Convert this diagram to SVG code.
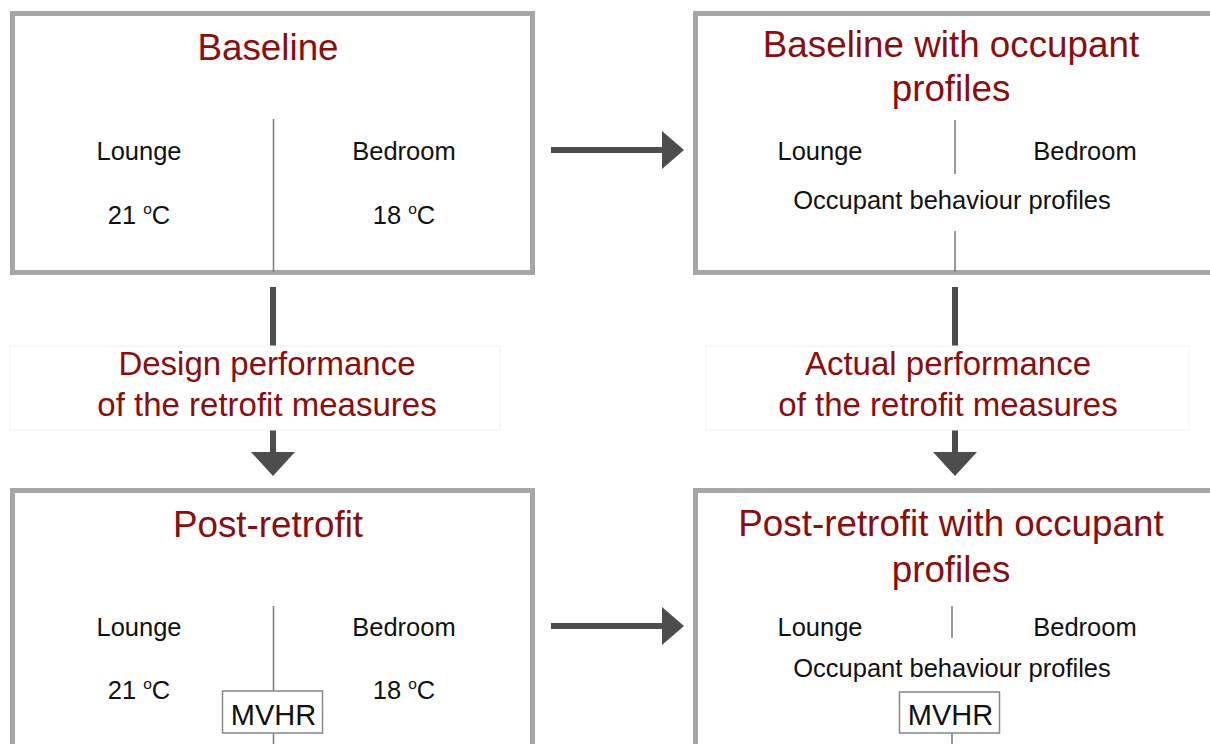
<svg xmlns="http://www.w3.org/2000/svg" width="1210" height="744" viewBox="0 0 1210 744">
<defs>
<style>
.box{fill:#fff;stroke:#a6a6a6;stroke-width:5}
.div{stroke:#808080;stroke-width:1.6;fill:none}
.title{font-family:"Liberation Sans",Arial,sans-serif;font-size:36.8px;fill:#8b0d0d;text-anchor:middle}
.lbl{font-family:"Liberation Sans",Arial,sans-serif;font-size:33px;fill:#8b0d0d;text-anchor:middle}
.t{font-family:"Liberation Sans",Arial,sans-serif;font-size:25.5px;fill:#111;text-anchor:middle}
.sup{font-size:15.5px}
.mv{font-family:"Liberation Sans",Arial,sans-serif;font-size:29px;fill:#111;text-anchor:middle}
.mvbox{fill:#fff;stroke:#888;stroke-width:1.5}
.shaft{stroke:#4d4d4d;stroke-width:6;fill:none}
.head{fill:#4d4d4d}
.lblbox{fill:#fff;stroke:#f2f2f2;stroke-width:1}
</style>
</defs>
<rect width="1210" height="744" fill="#fff"/>

<g id="baseline">
<rect class="box" x="12.5" y="13.5" width="520" height="259"/>
<text class="title" x="268" y="60">Baseline</text>
<line class="div" x1="273.5" y1="119" x2="273.5" y2="272"/>
<text class="t" x="139" y="160">Lounge</text>
<text class="t" x="404" y="160">Bedroom</text>
<text class="t" x="139" y="224">21 <tspan class="sup" dy="-10">o</tspan><tspan dy="10">C</tspan></text>
<text class="t" x="404" y="224">18 <tspan class="sup" dy="-10">o</tspan><tspan dy="10">C</tspan></text>
</g>

<g id="baseline-occupant">
<rect class="box" x="695.5" y="13.5" width="530" height="259"/>
<text class="title" x="951" y="57">Baseline with occupant</text>
<text class="title" x="951" y="101">profiles</text>
<line class="div" x1="955" y1="120" x2="955" y2="174"/>
<text class="t" x="820" y="160">Lounge</text>
<text class="t" x="1085" y="160">Bedroom</text>
<text class="t" x="952" y="209">Occupant behaviour profiles</text>
<line class="div" x1="955" y1="231" x2="955" y2="272"/>
</g>

<g id="post-retrofit">
<rect class="box" x="12.5" y="490.5" width="520" height="270"/>
<text class="title" x="268" y="537">Post-retrofit</text>
<line class="div" x1="273.5" y1="606" x2="273.5" y2="744"/>
<text class="t" x="139" y="636">Lounge</text>
<text class="t" x="404" y="636">Bedroom</text>
<text class="t" x="139" y="699">21 <tspan class="sup" dy="-10">o</tspan><tspan dy="10">C</tspan></text>
<text class="t" x="404" y="699">18 <tspan class="sup" dy="-10">o</tspan><tspan dy="10">C</tspan></text>
<rect class="mvbox" x="222.5" y="691" width="100" height="42"/>
<text class="mv" x="273.5" y="725">MVHR</text>
</g>

<g id="post-retrofit-occupant">
<rect class="box" x="695.5" y="490.5" width="530" height="270"/>
<text class="title" x="951" y="536">Post-retrofit with occupant</text>
<text class="title" x="951" y="582">profiles</text>
<line class="div" x1="952" y1="606" x2="952" y2="638"/>
<text class="t" x="820" y="636">Lounge</text>
<text class="t" x="1085" y="636">Bedroom</text>
<text class="t" x="952" y="677">Occupant behaviour profiles</text>
<rect class="mvbox" x="899.5" y="692" width="100" height="41"/>
<text class="mv" x="950.5" y="725">MVHR</text>
<line class="div" x1="952" y1="733" x2="952" y2="744"/>
</g>

<g id="connectors">
<line class="shaft" x1="551" y1="150" x2="664" y2="150"/>
<polygon class="head" points="662,131 684,150 662,169"/>
<line class="shaft" x1="551" y1="626" x2="664" y2="626"/>
<polygon class="head" points="662,607 684,626 662,645"/>

<line class="shaft" x1="273" y1="287" x2="273" y2="346"/>
<line class="shaft" x1="273" y1="430" x2="273" y2="455"/>
<polygon class="head" points="251,452 295,452 273,476"/>
<line class="shaft" x1="955" y1="287" x2="955" y2="346"/>
<line class="shaft" x1="955" y1="430" x2="955" y2="455"/>
<polygon class="head" points="933,452 977,452 955,476"/>
</g>

<g id="label-design">
<rect class="lblbox" x="10" y="346" width="490" height="84"/>
<text class="lbl" x="267" y="375">Design performance</text>
<text class="lbl" x="267" y="416">of the retrofit measures</text>
</g>
<g id="label-actual">
<rect class="lblbox" x="706" y="346" width="483" height="84"/>
<text class="lbl" x="948" y="375">Actual performance</text>
<text class="lbl" x="948" y="416">of the retrofit measures</text>
</g>
</svg>
